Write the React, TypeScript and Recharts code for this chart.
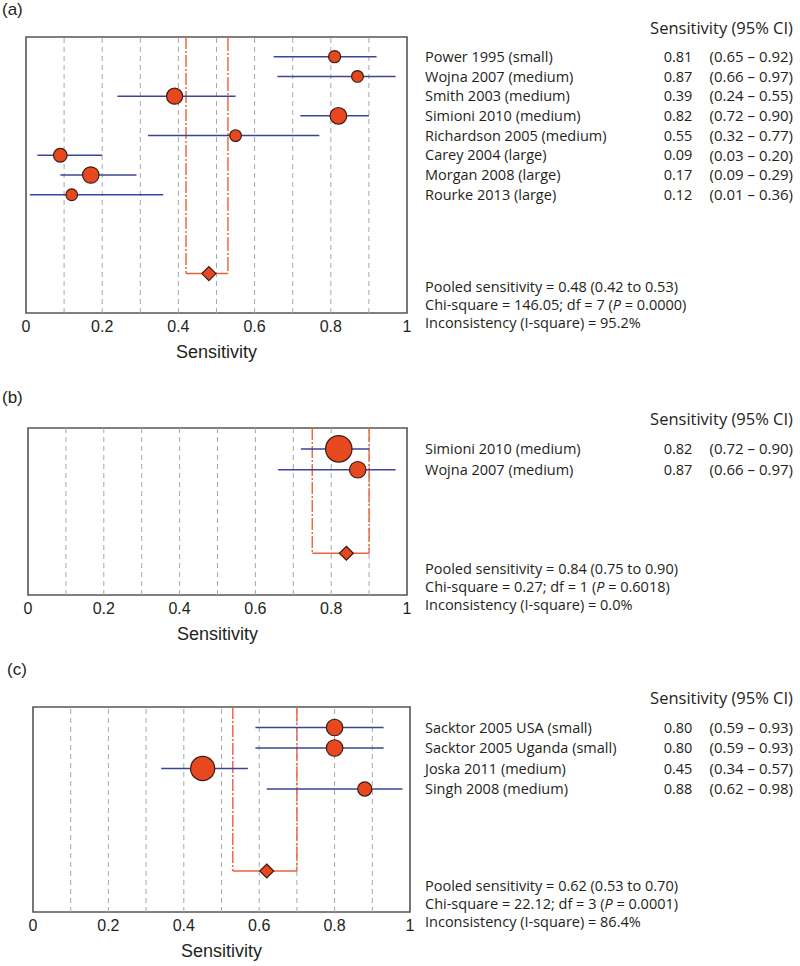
import React from "react";
import {
  ComposedChart,
  Scatter,
  XAxis,
  YAxis,
  ZAxis,
  ErrorBar,
  ReferenceLine,
  ReferenceArea,
} from "recharts";

if (typeof document !== "undefined") document.body.style.margin = "0";

// panel (a)
const studiesA = [
  "Power 1995 (small)",
  "Wojna 2007 (medium)",
  "Smith 2003 (medium)",
  "Simioni 2010 (medium)",
  "Richardson 2005 (medium)",
  "Carey 2004 (large)",
  "Morgan 2008 (large)",
  "Rourke 2013 (large)",
];
const sensA = [0.81, 0.87, 0.39, 0.82, 0.55, 0.09, 0.17, 0.12];
const lowA = [0.65, 0.66, 0.24, 0.72, 0.32, 0.03, 0.09, 0.01];
const highA = [0.92, 0.97, 0.55, 0.9, 0.77, 0.2, 0.29, 0.36];
const weightA = [9.7, 9.1, 17.2, 18.5, 9.1, 12.4, 18.0, 9.1]; // % weight
const pooledA = [0.48, 0.42, 0.53];
const statsA = { chi: "146.05", df: 7, p: "0.0000", i2: "95.2" };

// panel (b)
const studiesB = ["Simioni 2010 (medium)", "Wojna 2007 (medium)"];
const sensB = [0.82, 0.87];
const lowB = [0.72, 0.66];
const highB = [0.9, 0.97];
const weightB = [72, 28];
const pooledB = [0.84, 0.75, 0.9];
const statsB = { chi: "0.27", df: 1, p: "0.6018", i2: "0.0" };

// panel (c)
const studiesC = [
  "Sacktor 2005 USA (small)",
  "Sacktor 2005 Uganda (small)",
  "Joska 2011 (medium)",
  "Singh 2008 (medium)",
];
const sensC = [0.8, 0.8, 0.45, 0.88];
const lowC = [0.59, 0.59, 0.34, 0.62];
const highC = [0.93, 0.93, 0.57, 0.98];
const weightC = [20.5, 20.5, 44, 15];
const pooledC = [0.62, 0.53, 0.7];
const statsC = { chi: "22.12", df: 3, p: "0.0001", i2: "86.4" };

const xTicks = [0, 0.2, 0.4, 0.6, 0.8, 1];
const gridValues = [0.1, 0.2, 0.3, 0.4, 0.5, 0.6, 0.7, 0.8, 0.9];

const ORANGE = "#e8481f";
const POOL_LINE = "#e8623c";
const BLUE = "#3c4497";
const TEXT = "#231f20";
const SANS = "'Open Sans', 'Noto Sans', sans-serif";
const HELV = "'Liberation Sans', Arial, sans-serif";

const panels = [
  {
    label: "(a)", studies: studiesA, sens: sensA, low: lowA, high: highA, weight: weightA,
    pooled: pooledA, stats: statsA,
    top: 0, left: 26, right: 393, plotTop: 37, plotBottom: 313, zMax: 1180,
    labelX: 2, labelY: 10,
  },
  {
    label: "(b)", studies: studiesB, sens: sensB, low: lowB, high: highB, weight: weightB,
    pooled: pooledB, stats: statsB,
    top: 380, left: 28, right: 393, plotTop: 428, plotBottom: 595, zMax: 760,
    labelX: 2, labelY: 398,
  },
  {
    label: "(c)", studies: studiesC, sens: sensC, low: lowC, high: highC, weight: weightC,
    pooled: pooledC, stats: statsC,
    top: 660, left: 33, right: 390, plotTop: 707, plotBottom: 912, zMax: 1040,
    labelX: 7, labelY: 670,
  },
];

const Circle = (props: any) => {
  const r = props.size ? Math.sqrt(props.size / Math.PI) : props.width / 2;
  return <circle cx={props.cx} cy={props.cy} r={r} fill={ORANGE} stroke="#3a1c12" strokeWidth={1.2} />;
};

const Diamond = (props: any) => {
  const { cx, cy } = props;
  const h = 7;
  return (
    <polygon
      points={`${cx},${cy - h} ${cx + h},${cy} ${cx},${cy + h} ${cx - h},${cy}`}
      fill={ORANGE}
      stroke="#3a1c12"
      strokeWidth={1.2}
    />
  );
};

function Txt({ x, y, size = 14.5, children, family = SANS, right }: any) {
  return (
    <div
      style={{
        position: "absolute",
        left: right !== undefined ? undefined : x,
        right: right,
        top: y - size * 0.6,
        fontSize: size,
        lineHeight: `${size * 1.2}px`,
        fontFamily: family,
        color: TEXT,
        whiteSpace: "nowrap",
        zIndex: 3,
      }}
    >
      {children}
    </div>
  );
}

function Panel({ p }: { p: (typeof panels)[number] }) {
  const n = p.studies.length;
  const diamondRow = n + 3;
  const bottomRow = n + 5;
  const rows = p.studies.map((_, i) => i);
  const data = p.studies.map((s, i) => ({
    name: s,
    x: p.sens[i],
    y: i,
    w: p.weight[i],
    err: [p.sens[i] - p.low[i], p.high[i] - p.sens[i]],
  }));
  const [est, lo, hi] = p.pooled;
  const height = Math.min(p.plotBottom + 56, 966) - p.top;

  const rowTick = (t: any) => {
    const i = t.payload.value;
    return (
      <g fontFamily={SANS} fontSize={14.5} fill={TEXT}>
        <text x={425} y={t.y} dy="0.35em">{p.studies[i]}</text>
        <text x={678} y={t.y} dy="0.35em" textAnchor="middle">{p.sens[i].toFixed(2)}</text>
        <text x={793} y={t.y} dy="0.35em" textAnchor="end" fontSize={15}>
          ({p.low[i].toFixed(2)} – {p.high[i].toFixed(2)})
        </text>
      </g>
    );
  };

  return (
    <div style={{ position: "absolute", left: 0, top: p.top, zIndex: 1 }}>
      <ComposedChart
        width={800}
        height={height}
        margin={{ top: p.plotTop - p.top, left: p.left, right: 0, bottom: 0 }}
      >
        <XAxis
          type="number"
          dataKey="x"
          domain={[0, 1]}
          ticks={xTicks}
          tickFormatter={(v: number) => (v === 0 || v === 1 ? String(v) : v.toFixed(1))}
          axisLine={false}
          tickLine={false}
          height={height - (p.plotBottom - p.top)}
          tick={{ fontSize: 16, fill: TEXT, fontFamily: HELV }}
          label={{
            value: "Sensitivity",
            position: "insideBottom",
            offset: 11 - (p.plotBottom + 56 - p.top - height),
            fontSize: 18,
            fill: TEXT,
            fontFamily: HELV,
          }}
        />
        <YAxis
          type="number"
          dataKey="y"
          orientation="right"
          reversed
          domain={[-1, bottomRow]}
          ticks={rows}
          interval={0}
          width={p.right}
          axisLine={false}
          tickLine={false}
          tick={rowTick}
        />
        <ZAxis type="number" dataKey="w" domain={[0, 100]} range={[0, p.zMax]} />
        {gridValues.map((v) => (
          <ReferenceLine key={v} x={v} stroke="#a7a7a7" strokeDasharray="5 4" strokeWidth={1} />
        ))}
        <ReferenceLine
          segment={[{ x: lo, y: -1 }, { x: lo, y: diamondRow }]}
          stroke={POOL_LINE}
          strokeWidth={1.4}
          strokeDasharray="12 2 2 2"
        />
        <ReferenceLine
          segment={[{ x: hi, y: -1 }, { x: hi, y: diamondRow }]}
          stroke={POOL_LINE}
          strokeWidth={1.4}
          strokeDasharray="14 2 2 2"
        />
        <ReferenceLine
          segment={[{ x: lo, y: diamondRow }, { x: hi, y: diamondRow }]}
          stroke={POOL_LINE}
          strokeWidth={1.4}
        />
        <ReferenceArea x1={0} x2={1} y1={-1} y2={bottomRow} fill="none" fillOpacity={0} stroke="#555" strokeWidth={1.6} />
        <Scatter data={data} dataKey="x" shape={Circle} isAnimationActive={false}>
          <ErrorBar dataKey="err" direction="x" width={0} stroke={BLUE} strokeWidth={1.5} isAnimationActive={false} />
        </Scatter>
        <Scatter data={[{ x: est, y: diamondRow }]} dataKey="x" shape={Diamond} isAnimationActive={false} />
      </ComposedChart>
    </div>
  );
}

export default function App() {
  return (
    <div style={{ position: "relative", width: 800, height: 966, background: "#fff", overflow: "hidden" }}>
      {panels.map((p) => (
        <Panel key={p.label} p={p} />
      ))}
      {panels.map((p) => {
        const { chi, df, p: pv, i2 } = p.stats;
        const [est, lo, hi] = p.pooled;
        const b = p.plotBottom;
        return (
          <React.Fragment key={p.label + "t"}>
            <Txt x={p.labelX} y={p.labelY} size={17} family={HELV}>{p.label}</Txt>
            <Txt right={7} y={p.plotTop - 9} size={16.5}>Sensitivity (95% CI)</Txt>
            <Txt x={425} y={b - 26}>
              Pooled sensitivity = {est.toFixed(2)} ({lo.toFixed(2)} to {hi.toFixed(2)})
            </Txt>
            <Txt x={425} y={b - 8}>
              Chi-square = {chi}; df = {df} (<i>P</i> = {pv})
            </Txt>
            <Txt x={425} y={b + 10}>Inconsistency (I-square) = {i2}%</Txt>
          </React.Fragment>
        );
      })}
    </div>
  );
}
